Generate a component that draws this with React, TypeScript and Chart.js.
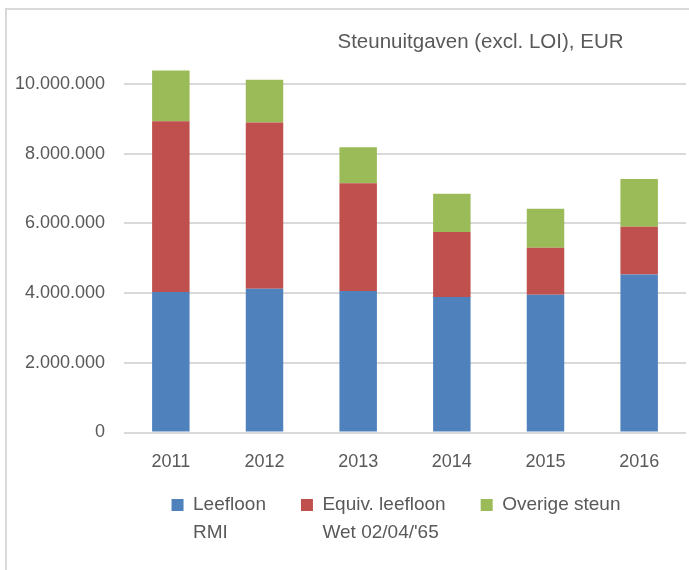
import React, { useEffect, useRef } from 'react';
import { Chart, registerables } from 'chart.js';

Chart.register(...registerables);

const years = ['2011', '2012', '2013', '2014', '2015', '2016'];
const leefloonRMI = [4030000, 4120000, 4060000, 3890000, 3950000, 4530000];
const equivLeefloon = [4900000, 4770000, 3090000, 1860000, 1350000, 1370000];
const overigeSteun = [1450000, 1230000, 1030000, 1100000, 1120000, 1370000];
const seriesLabels = ['Leefloon', 'Equiv. leefloon', 'Overige steun'];
const seriesSubLabels = ['RMI', "Wet 02/04/'65", ''];
const seriesColors = ['#4f81bd', '#c0504d', '#9bbb59'];
const yTickValues = [0, 2000000, 4000000, 6000000, 8000000, 10000000];
const chartTitle = 'Steunuitgaven (excl. LOI), EUR';

const FONT = "'Liberation Sans', Arial, sans-serif";
const TEXT = '#595959';
const LEGEND_FONT_SIZE = 19;
const LEGEND_LINE = 28;
const LEGEND_BOX = 12;
const TITLE_SHIFT = 137.5;
const LEGEND_SHIFT_X = 53;
const LEGEND_SHIFT_Y = -13;

const fmt = (v: number) => String(Math.round(v)).replace(/\B(?=(\d{3})+(?!\d))/g, '.');

const layoutPlugin = {
  id: 'layoutTweaks',
  afterLayout(chart: any) {
    const t = chart.titleBlock;
    if (t) { t.left += TITLE_SHIFT; t.right += TITLE_SHIFT; }
    const l = chart.legend;
    if (l) {
      l.left += LEGEND_SHIFT_X; l.right += LEGEND_SHIFT_X;
      l.top += LEGEND_SHIFT_Y; l.bottom += LEGEND_SHIFT_Y;
    }
  },
  beforeDraw(chart: any) {
    const ctx = chart.ctx;
    ctx.save();
    ctx.strokeStyle = '#d9d9d9';
    ctx.lineWidth = 2;
    ctx.strokeRect(6, 9, 1000, 1000);
    ctx.restore();
  },
  afterDraw(chart: any) {
    const l = chart.legend;
    if (!l || !l.legendHitBoxes) return;
    const ctx = chart.ctx;
    ctx.save();
    ctx.fillStyle = TEXT;
    ctx.font = `${LEGEND_FONT_SIZE}px ${FONT}`;
    ctx.textAlign = 'left';
    ctx.textBaseline = 'middle';
    l.legendHitBoxes.forEach((hb: any, i: number) => {
      const sub = seriesSubLabels[l.legendItems[i].datasetIndex];
      if (!sub) return;
      const x = hb.left + LEGEND_BOX + LEGEND_FONT_SIZE / 2;
      const y = hb.top + hb.height / 2 + LEGEND_LINE;
      ctx.fillText(sub, x, y);
    });
    ctx.restore();
  },
};

export default function App() {
  const ref = useRef<HTMLCanvasElement>(null);
  useEffect(() => {
    if (!ref.current) return;
    const data = [leefloonRMI, equivLeefloon, overigeSteun];
    const chart = new Chart(ref.current, {
      type: 'bar',
      data: {
        labels: years,
        datasets: data.map((d, i) => ({
          label: seriesLabels[i],
          data: d,
          backgroundColor: seriesColors[i],
          borderWidth: 0,
          barPercentage: 0.4,
          categoryPercentage: 1,
        })),
      },
      options: {
        animation: false,
        responsive: true,
        maintainAspectRatio: false,
        layout: { padding: { left: 0, right: 3, top: 0, bottom: 32.5 } },
        plugins: {
          title: {
            display: true,
            text: chartTitle,
            color: TEXT,
            font: { family: FONT, size: 20.5, weight: 'normal', lineHeight: 1.2 },
            padding: { top: 29.7, bottom: -5.3 },
          },
          legend: {
            position: 'bottom',
            labels: {
              boxWidth: LEGEND_BOX,
              boxHeight: LEGEND_BOX,
              padding: 35,
              color: TEXT,
              font: { family: FONT, size: LEGEND_FONT_SIZE },
            },
          },
          tooltip: { enabled: false },
        },
        scales: {
          x: {
            stacked: true,
            grid: { display: false, drawTicks: false },
            border: { display: false },
            ticks: { color: TEXT, font: { family: FONT, size: 18 }, padding: 19 },
            afterFit: (s: any) => { s.height = 41; },
          },
          y: {
            stacked: true,
            min: 0,
            max: 11000000,
            grid: { color: '#d9d9d9', lineWidth: 2, drawTicks: false },
            border: { display: false },
            ticks: { color: TEXT, font: { family: FONT, size: 18 }, padding: 19, callback: (v: any) => fmt(Number(v)) },
            afterBuildTicks: (s: any) => { s.ticks = yTickValues.map((v) => ({ value: v })); },
            afterFit: (s: any) => { s.width = 124; },
          },
        },
      },
      plugins: [layoutPlugin],
    });
    return () => chart.destroy();
  }, []);
  return (
    <div style={{ position: 'fixed', left: 0, top: 0, width: 689, height: 570, background: '#fff' }}>
      <canvas ref={ref} />
    </div>
  );
}
